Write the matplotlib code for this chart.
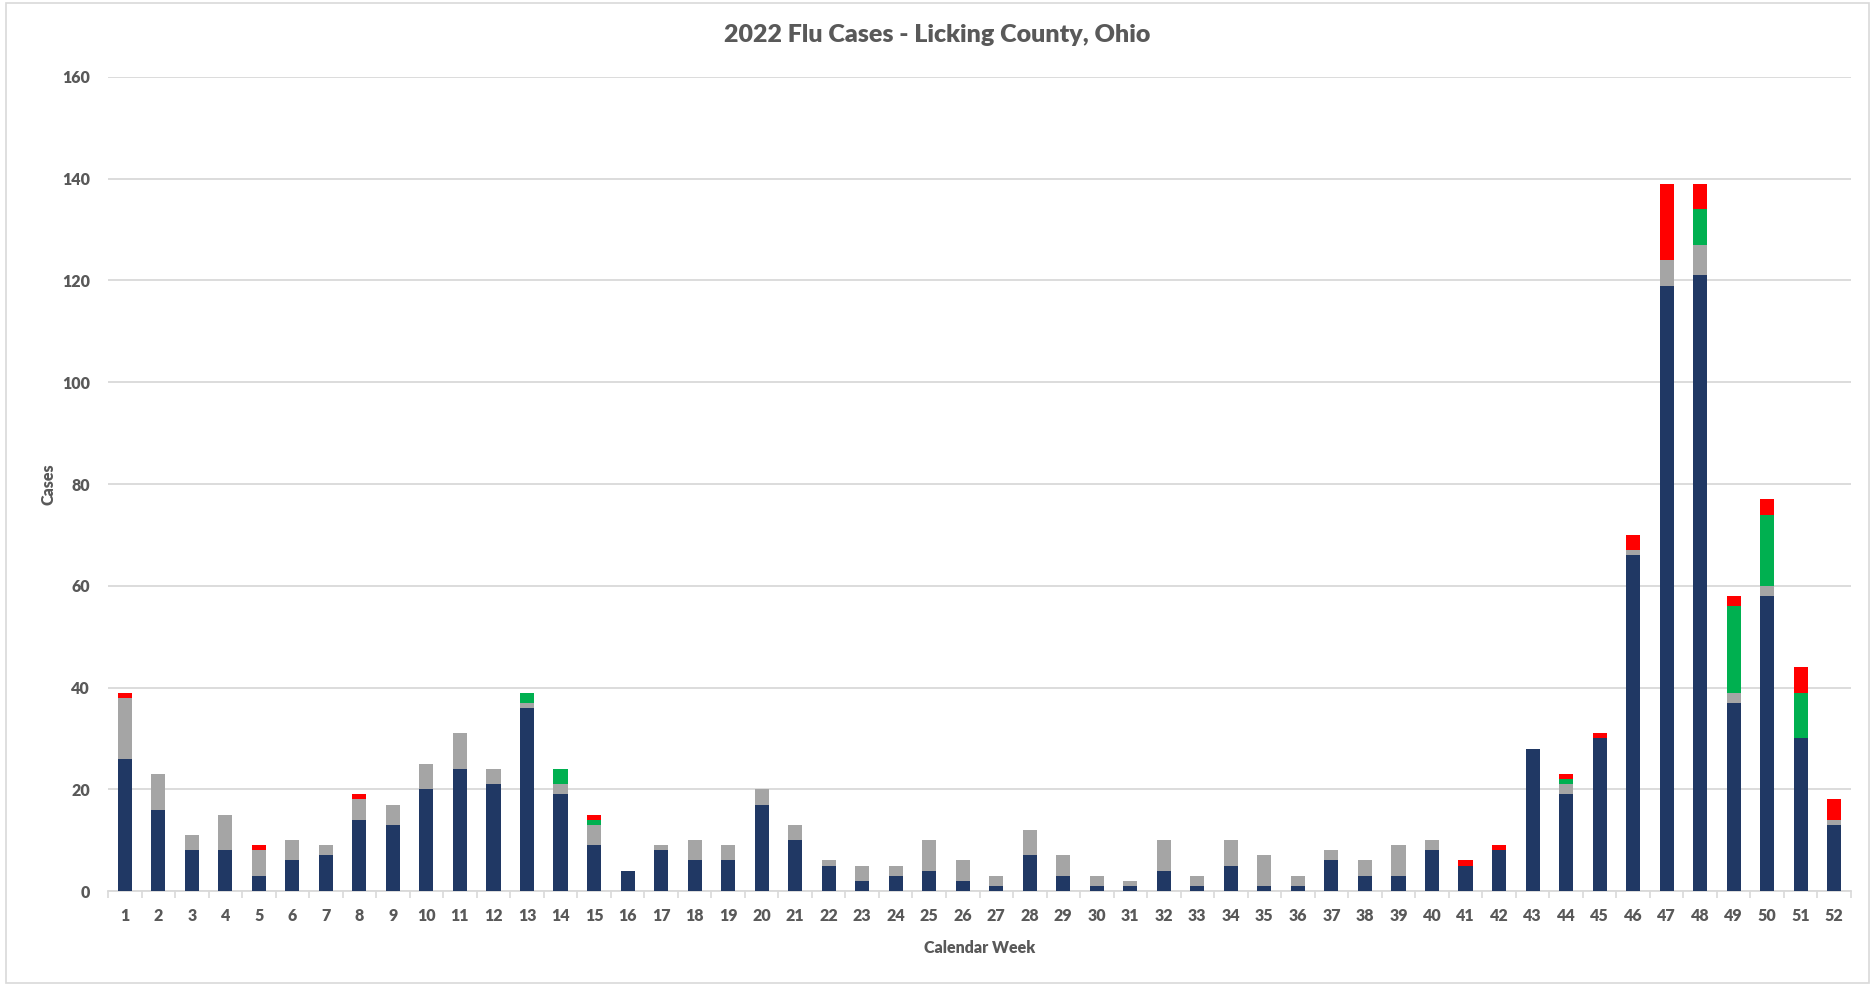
import numpy as np
import matplotlib
matplotlib.use("Agg")
from matplotlib import pyplot as plt
from matplotlib.patches import Rectangle

plt.rcParams['font.family'] = ['Lato', 'DejaVu Sans']

weeks = list(range(1, 53))
navy = [26, 16, 8, 8, 3, 6, 7, 14, 13, 20, 24, 21, 36, 19, 9, 4, 8, 6, 6, 17,
        10, 5, 2, 3, 4, 2, 1, 7, 3, 1, 1, 4, 1, 5, 1, 1, 6, 3, 3, 8,
        5, 8, 28, 19, 30, 66, 119, 121, 37, 58, 30, 13]
gray = [12, 7, 3, 7, 5, 4, 2, 4, 4, 5, 7, 3, 1, 2, 4, 0, 1, 4, 3, 3,
        3, 1, 3, 2, 6, 4, 2, 5, 4, 2, 1, 6, 2, 5, 6, 2, 2, 3, 6, 2,
        0, 0, 0, 2, 0, 1, 5, 6, 2, 2, 0, 1]
green = [0, 0, 0, 0, 0, 0, 0, 0, 0, 0, 0, 0, 2, 3, 1, 0, 0, 0, 0, 0,
         0, 0, 0, 0, 0, 0, 0, 0, 0, 0, 0, 0, 0, 0, 0, 0, 0, 0, 0, 0,
         0, 0, 0, 1, 0, 0, 0, 7, 17, 14, 9, 0]
red = [1, 0, 0, 0, 1, 0, 0, 1, 0, 0, 0, 0, 0, 0, 1, 0, 0, 0, 0, 0,
       0, 0, 0, 0, 0, 0, 0, 0, 0, 0, 0, 0, 0, 0, 0, 0, 0, 0, 0, 0,
       1, 1, 0, 1, 1, 3, 15, 5, 2, 3, 5, 4]

txt = "#595959"
fig = plt.figure(figsize=(18.75, 9.96), dpi=100)
fig.patches.append(Rectangle((0.003, 0.013), 0.994, 0.984, transform=fig.transFigure,
                             fill=False, edgecolor="#D9D9D9", linewidth=1.2))
ax = fig.add_axes([0.0576, 0.1054, 0.9296, 0.8173])

x = np.array(weeks)
w = 0.42
b = np.zeros(len(x))
for vals, col in [(navy, "#203864"), (gray, "#A5A5A5"), (green, "#00B050"), (red, "#FF0000")]:
    v = np.array(vals)
    ax.bar(x, v, w, bottom=b, color=col, linewidth=0, zorder=3)
    b += v

ax.set_xlim(0.5, 52.5)
ax.set_ylim(0, 160)
ax.set_yticks(range(0, 161, 20))
ax.set_xticks(x)
ax.set_xticks(np.arange(0.5, 53, 1), minor=True)
ax.yaxis.grid(True, color="#D9D9D9", linewidth=1.3, zorder=0)
for s in ["top", "right", "left"]:
    ax.spines[s].set_visible(False)
ax.spines["bottom"].set_color("#D9D9D9")
ax.spines["bottom"].set_linewidth(1.3)
ax.tick_params(axis="y", length=0, pad=13, labelsize=11.5, labelcolor=txt)
ax.tick_params(axis="x", which="major", length=0, pad=12, labelsize=11.5, labelcolor=txt)
ax.tick_params(axis="x", which="minor", length=5, color="#D9D9D9", width=1.2)
for lab in ax.get_xticklabels() + ax.get_yticklabels():
    lab.set_fontweight(800)

ax.set_xlabel("Calendar Week", fontsize=11.5, fontweight=800, color=txt, labelpad=12)
ax.set_ylabel("Cases", fontsize=11.5, fontweight=800, color=txt, labelpad=4)
fig.text(0.5, 0.965, "2022 Flu Cases - Licking County, Ohio", ha="center", va="center",
         fontsize=18, fontweight=800, color=txt)

plt.savefig("out.png")
